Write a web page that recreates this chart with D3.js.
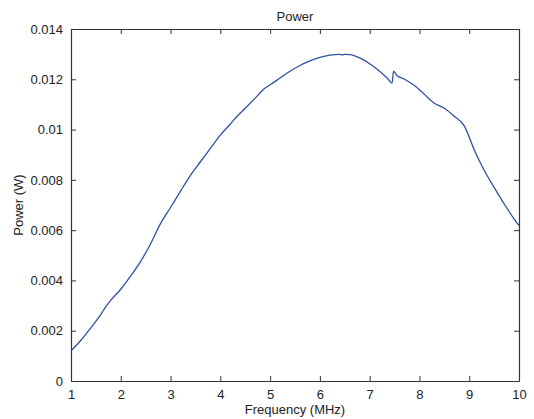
<!DOCTYPE html>
<html lang="en">
<head>
<meta charset="UTF-8">
<title>Power</title>
<script src="https://d3js.org/d3.v7.min.js"></script>
<style>
  body { margin: 0; background: #fff; }
  text { font-family: "Liberation Sans", Arial, sans-serif; fill: #222; }
</style>
</head>
<body>
<div id="chart"></div>
<script>
// data
var freq = [1.0, 1.2, 1.4, 1.6, 1.7, 1.8, 2.0, 2.2, 2.4, 2.6, 2.8, 3.0, 3.2, 3.4, 3.6, 3.8,
            4.0, 4.2, 4.3, 4.5, 4.7, 4.9, 5.0, 5.2, 5.4, 5.6, 5.8, 6.0, 6.2, 6.4, 6.45, 6.5,
            6.6, 6.8, 7.0, 7.2, 7.35, 7.45, 7.48, 7.55, 7.7, 7.9, 8.1, 8.3, 8.5, 8.7, 8.9,
            9.1, 9.3, 9.5, 9.7, 9.9, 10.0];
var power = [0.00120, 0.00162, 0.00212, 0.00265, 0.00296, 0.00322, 0.00365, 0.00418, 0.00476,
             0.00546, 0.00627, 0.00690, 0.00755, 0.00818, 0.00872, 0.00925, 0.00978, 0.01022,
             0.01045, 0.01085, 0.01125, 0.01165, 0.01178, 0.01205, 0.01232, 0.01255, 0.01273,
             0.01287, 0.01296, 0.01299, 0.01297, 0.01299, 0.01298, 0.01285, 0.01262, 0.01232,
             0.01205, 0.01185, 0.01232, 0.01215, 0.01200, 0.01175, 0.01140, 0.01105, 0.01085,
             0.01053, 0.01015, 0.00920, 0.00838, 0.00770, 0.00705, 0.00645, 0.00618];
var xTicks = [1, 2, 3, 4, 5, 6, 7, 8, 9, 10];
var yTicks = [0, 0.002, 0.004, 0.006, 0.008, 0.01, 0.012, 0.014];
var yTickLabels = ["0", "0.002", "0.004", "0.006", "0.008", "0.01", "0.012", "0.014"];

var width = 534, height = 419;
var margin = {top: 29, right: 15, bottom: 38, left: 71};

var svg = d3.select("#chart").append("svg")
  .attr("width", width)
  .attr("height", height);

var x = d3.scaleLinear().domain([1, 10]).range([margin.left, width - margin.right]);
var y = d3.scaleLinear().domain([0, 0.014]).range([height - margin.bottom, margin.top]);

var axisColor = "#333";

// bottom axis, ticks inward
var gx = svg.append("g")
  .attr("transform", "translate(0," + y(0) + ")")
  .call(d3.axisBottom(x).tickValues(xTicks).tickSizeInner(-5).tickSizeOuter(0).tickPadding(8).tickFormat(d3.format("d")));

// top axis (box), ticks only
var gxt = svg.append("g")
  .attr("transform", "translate(0," + y(0.014) + ")")
  .call(d3.axisTop(x).tickValues(xTicks).tickSizeInner(-5).tickSizeOuter(0).tickFormat(""));

// left axis
var gy = svg.append("g")
  .attr("transform", "translate(" + x(1) + ",0)")
  .call(d3.axisLeft(y).tickValues(yTicks).tickSizeInner(-5).tickSizeOuter(0).tickPadding(8)
    .tickFormat(function(d, i) { return yTickLabels[i]; }));

// right axis (box)
var gyr = svg.append("g")
  .attr("transform", "translate(" + x(10) + ",0)")
  .call(d3.axisRight(y).tickValues(yTicks).tickSizeInner(-5).tickSizeOuter(0).tickFormat(""));

[gx, gxt, gy, gyr].forEach(function(g) {
  g.select(".domain").attr("stroke", axisColor).attr("stroke-width", 1.2);
  g.selectAll(".tick line").attr("stroke", axisColor);
  g.selectAll(".tick text").attr("font-size", 13).attr("fill", "#222")
    .attr("font-family", "'Liberation Sans', Arial, sans-serif");
});
// the 0 / 1 corner tick marks sit on the box edge anyway
gx.selectAll(".tick text").attr("dy", "0.75em");

// the curve
var pts = freq.map(function(f, i) { return [f, power[i]]; });
var line = d3.line()
  .x(function(d) { return x(d[0]); })
  .y(function(d) { return y(d[1]); })
  .curve(d3.curveMonotoneX);

svg.append("path")
  .datum(pts)
  .attr("fill", "none")
  .attr("stroke", "#2f50a4")
  .attr("stroke-width", 1.3)
  .attr("d", line);

// title and labels
svg.append("text")
  .attr("x", (x(1) + x(10)) / 2)
  .attr("y", 21)
  .attr("text-anchor", "middle")
  .attr("font-size", 13)
  .text("Power");

svg.append("text")
  .attr("x", (x(1) + x(10)) / 2)
  .attr("y", 414)
  .attr("text-anchor", "middle")
  .attr("font-size", 13)
  .text("Frequency (MHz)");

svg.append("text")
  .attr("transform", "translate(23," + ((y(0) + y(0.014)) / 2) + ") rotate(-90)")
  .attr("text-anchor", "middle")
  .attr("font-size", 13)
  .text("Power (W)");
</script>
</body>
</html>
